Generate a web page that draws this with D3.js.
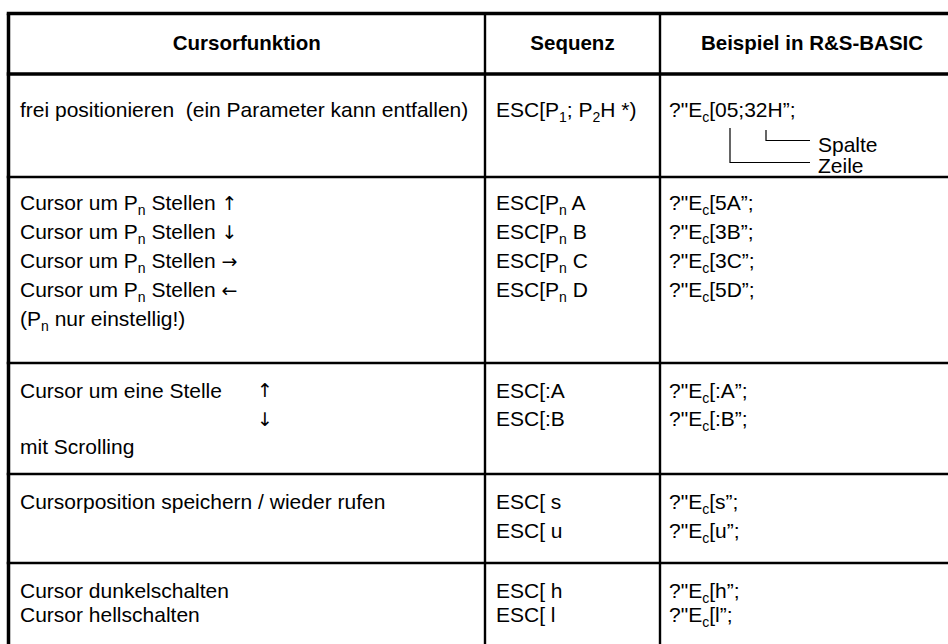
<!DOCTYPE html>
<html><head><meta charset="utf-8">
<script src="https://cdn.jsdelivr.net/npm/d3@7"></script>
<style>body{margin:0;background:#fff}svg{display:block}text{white-space:pre}</style>
</head><body>
<svg id="c" width="948" height="644"></svg>
<script>
// ---- data ----
const headers = ["Cursorfunktion", "Sequenz", "Beispiel in R&S-BASIC"];
const funktion = [
  ["frei positionieren  (ein Parameter kann entfallen)"],
  ["Cursor um P_{n} Stellen ↑", "Cursor um P_{n} Stellen ↓", "Cursor um P_{n} Stellen →", "Cursor um P_{n} Stellen ←", "(P_{n} nur einstellig!)"],
  ["Cursor um eine Stelle", "", "mit Scrolling"],
  ["Cursorposition speichern / wieder rufen"],
  ["Cursor dunkelschalten", "Cursor hellschalten"]
];
const rowArrows = [[], [], ["↑", "↓"], [], []];
const sequenz = [
  ["ESC[P_{1}; P_{2}H *)"],
  ["ESC[P_{n} A", "ESC[P_{n} B", "ESC[P_{n} C", "ESC[P_{n} D"],
  ["ESC[:A", "ESC[:B"],
  ["ESC[ s", "ESC[ u"],
  ["ESC[ h", "ESC[ l"]
];
const beispiel = [
  ["?\"E_{c}[05;32H”;"],
  ["?\"E_{c}[5A”;", "?\"E_{c}[3B”;", "?\"E_{c}[3C”;", "?\"E_{c}[5D”;"],
  ["?\"E_{c}[:A”;", "?\"E_{c}[:B”;"],
  ["?\"E_{c}[s”;", "?\"E_{c}[u”;"],
  ["?\"E_{c}[h”;", "?\"E_{c}[l”;"]
];
const annot = ["Spalte", "Zeile"];

// ---- layout ----
const colEdges = [8.5, 485, 660, 964];
const rowEdges = [13.5, 74, 177, 363, 474, 563, 670];
const rowFirst = [117, 210, 398, 509, 598];
const rowStep  = [28, 29, 28, 29, 24];
const FONT = "'Liberation Sans', Arial, Helvetica, sans-serif";
const ARROWFONT = "'DejaVu Sans', sans-serif";
const FS = 21, HFS = 20.5, SUB = 14;

const svg = d3.select("#c");
const xCol = d3.scaleOrdinal().domain([0,1,2,3]).range(colEdges);

function rich(text, str) {
  const parts = str.split(/_\{([^}]*)\}/);
  let shifted = false;
  parts.forEach((p, i) => {
    if (p === "") return;
    const arrowSplit = p.split(/([↑↓←→])/);
    arrowSplit.forEach((q, k) => {
      if (q === "") return;
      const t = text.append("tspan").text(q);
      if (k % 2 === 1) t.attr("font-family", ARROWFONT).attr("font-size", 19);
      if (i % 2 === 1) { t.attr("font-size", SUB).attr("dy", 5); shifted = true; }
      else if (shifted) { t.attr("dy", -5); shifted = false; }
    });
  });
}

// header
svg.selectAll("text.h").data(headers).join("text")
  .attr("class", "h")
  .attr("x", (d, i) => (xCol(i) + xCol(i + 1)) / 2)
  .attr("y", 50)
  .attr("text-anchor", "middle")
  .attr("font-family", FONT).attr("font-weight", "bold").attr("font-size", HFS)
  .attr("fill", "#000").text(d => d);

const colPad = [11.5, 11, 9];
[funktion, sequenz, beispiel].forEach((col, ci) => {
  col.forEach((lines, ri) => {
    lines.forEach((ln, li) => {
      if (!ln) return;
      const t = svg.append("text")
        .attr("x", xCol(ci) + colPad[ci])
        .attr("y", rowFirst[ri] + li * rowStep[ri])
        .attr("font-family", FONT).attr("font-size", FS).attr("fill", "#000");
      rich(t, ln);
    });
  });
});

// arrows in row 3
rowArrows.forEach((arr, ri) => {
  arr.forEach((a, li) => {
    svg.append("text").attr("x", 265).attr("y", rowFirst[ri] + li * (rowStep[ri] + 1) - 1)
      .attr("text-anchor", "middle")
      .attr("font-family", ARROWFONT).attr("font-size", 19)
      .attr("fill", "#000").text(a);
  });
});

// row 1 annotation tree
const tree = svg.append("g").attr("stroke", "#000").attr("stroke-width", 1.2).attr("fill", "none");
tree.append("path").attr("d", "M730,128V162.5H810");
tree.append("path").attr("d", "M766,130V140.5H810");
annot.forEach((a, i) => {
  svg.append("text").attr("x", 818).attr("y", 152 + i * 21)
    .attr("font-family", FONT).attr("font-size", FS).attr("fill", "#000").text(a);
});

// grid lines
const g = svg.append("g").attr("stroke", "#000");
rowEdges.forEach((y, i) => {
  g.append("line").attr("x1", colEdges[0] - 1.75).attr("x2", colEdges[3] + 1.5)
    .attr("y1", y).attr("y2", y).attr("stroke-width", i < 2 ? 3.5 : 2.4);
});
colEdges.forEach((x, i) => {
  g.append("line").attr("x1", x).attr("x2", x)
    .attr("y1", rowEdges[0]).attr("y2", rowEdges[rowEdges.length - 1])
    .attr("stroke-width", (i === 0 || i === 3) ? 3.5 : 2.4);
});
</script>
</body></html>
